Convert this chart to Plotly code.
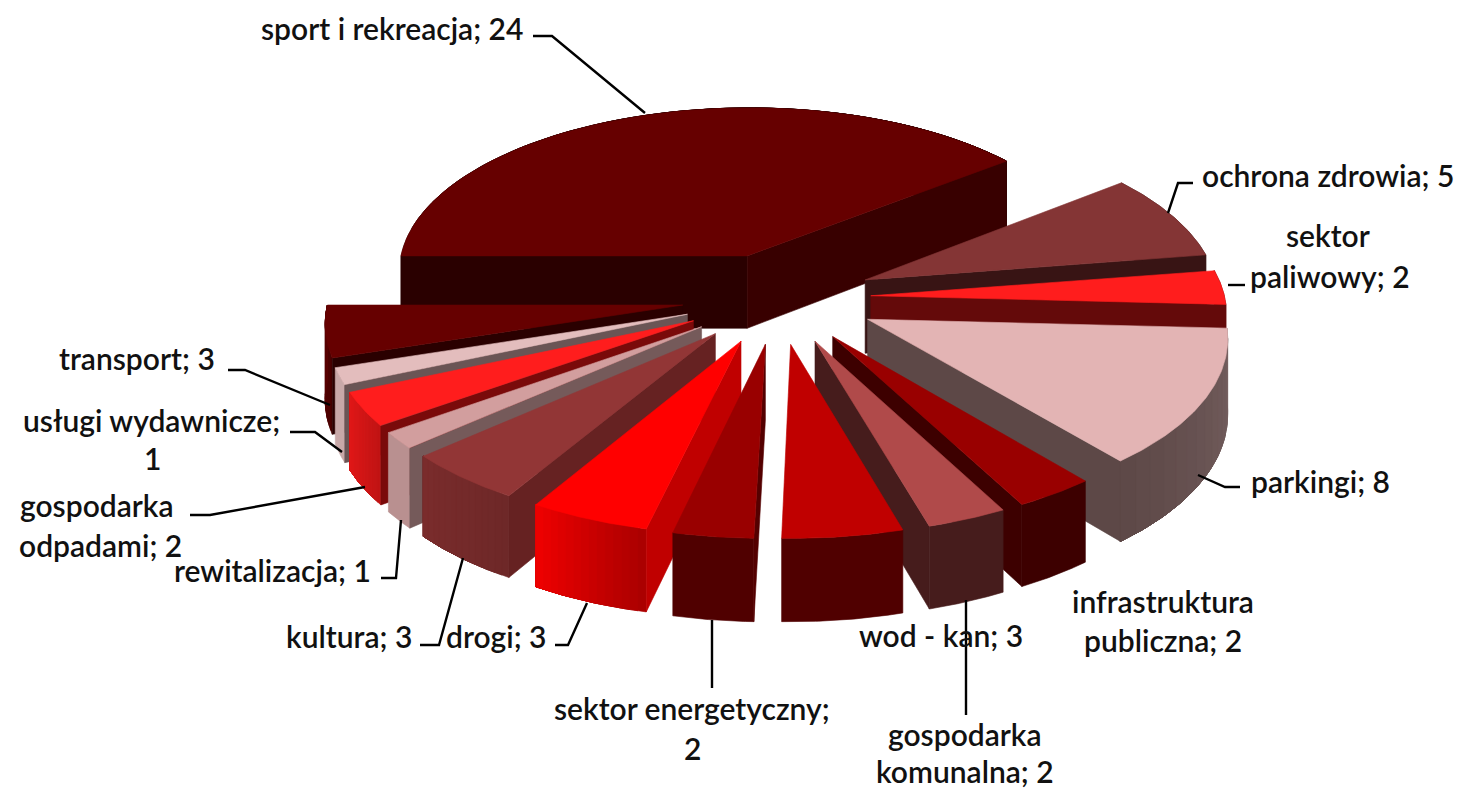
import math
import plotly.graph_objects as go

# ---- data (clockwise from the 9 o'clock position)
categories = ["sport i rekreacja", "ochrona zdrowia", "sektor paliwowy", "parkingi",
              "infrastruktura publiczna", "gospodarka komunalna", "wod - kan",
              "sektor energetyczny", "drogi", "kultura", "rewitalizacja",
              "gospodarka odpadami", "usługi wydawnicze", "transport"]
values = [24, 5, 2, 8, 2, 2, 3, 2, 3, 3, 1, 2, 1, 3]

# ---- styles
top_colors = ["#660000", "#843535", "#FF1D1D", "#E3B4B4", "#990000", "#B04A4A", "#C00000",
              "#990000", "#FF0000", "#923636", "#D29E9E", "#FF1D1D", "#E3BDBD", "#660000"]
start_wall = ["#2A0000", "#381414", "#640A0A", "#5D4847", "#3D0000", "#461C1C", "#500000",
              "#540000", "#C00000", "#662222", "#755A5A", "#7A0A0A", "#6A5555", "#2A0000"]
end_wall = ["#380000", "#381414", "#640A0A", "#5D4847", "#3D0000", "#461C1C", "#500000",
            "#540000", "#C00000", "#662222", "#755A5A", "#7A0A0A", "#6A5555", "#2A0000"]
arc_start = ["#2A0000", "#381414", "#640A0A", "#756060", "#3D0000", "#461C1C", "#500000",
             "#500000", "#A80000", "#6E2828", "#B99090", "#C01414", "#C8A8A8", "#4A0000"]
arc_end = ["#380000", "#381414", "#640A0A", "#5D4847", "#3D0000", "#461C1C", "#500000",
           "#500000", "#F00000", "#7A2C2C", "#B99090", "#E01818", "#C8A8A8", "#5A0000"]
explode = [96, 96, 93, 99, 96, 96, 96, 96, 96, 96, 96, 96, 96, 96]

# label text lines with anchor positions (layout only)
label_lines = [
    ("sport i rekreacja; 24", 392, 28), ("ochrona zdrowia; 5", 1328, 175),
    ("sektor", 1328, 235), ("paliwowy; 2", 1330, 276), ("parkingi; 8", 1320, 481),
    ("infrastruktura", 1163, 601), ("publiczna; 2", 1163, 640), ("wod - kan; 3", 941, 635),
    ("gospodarka", 965, 734), ("komunalna; 2", 965, 771),
    ("sektor energetyczny;", 692, 708), ("2", 692, 748),
    ("drogi; 3", 496, 636), ("kultura; 3", 349, 636), ("rewitalizacja; 1", 272, 570),
    ("gospodarka", 97, 505), ("odpadami; 2", 100, 545),
    ("usługi wydawnicze;", 151, 420), ("1", 152, 458), ("transport; 3", 137, 358),
]
leaders = [
    [(533, 36), (552, 36), (645, 113)], [(1193, 183), (1178, 183), (1168, 213)],
    [(1245, 285), (1228, 285)], [(1240, 487), (1225, 487), (1198, 475)],
    [(966, 600), (966, 715)], [(712, 620), (712, 688)],
    [(587, 603), (568, 645), (555, 645)], [(463, 558), (439, 645), (420, 645)],
    [(401, 520), (396, 578), (381, 578)], [(365, 487), (210, 515), (190, 515)],
    [(342, 452), (315, 432), (290, 432)], [(330, 405), (245, 370), (228, 370)],
]

# ---- projection parameters
CX, CY = 778, 298
R = 354
TILT, THICK, DIST = 0.475, 74, 4000
START = 270.0
N = 72


def project(X, Y, Z):
    s = 1 / (1 + Y / DIST)
    return CX + X * s, CY - (Y * TILT + Z) * s


def mix(c0, c1, t):
    a = [int(c0[i:i + 2], 16) for i in (1, 3, 5)]
    b = [int(c1[i:i + 2], 16) for i in (1, 3, 5)]
    return "#%02X%02X%02X" % tuple(round(p + (q - p) * t) for p, q in zip(a, b))


fig = go.Figure()


def poly(pts, color):
    fig.add_trace(go.Scatter(x=[p[0] for p in pts] + [pts[0][0]], y=[p[1] for p in pts] + [pts[0][1]],
                             mode="lines", fill="toself", fillcolor=color,
                             line=dict(color=color, width=0.6), hoverinfo="skip", showlegend=False))


total = sum(values)
slices = []
a = START
for i, v in enumerate(values):
    sweep = 360 * v / total
    slices.append((i, a, sweep))
    a += sweep

slices.sort(key=lambda t: -math.cos(math.radians(t[1] + t[2] / 2)))

for i, a0, sweep in slices:
    mid = math.radians(a0 + sweep / 2)
    ox, oy = explode[i] * math.sin(mid), explode[i] * math.cos(mid)

    def rim(deg, z):
        r = math.radians(deg)
        return project(ox + R * math.sin(r), oy + R * math.cos(r), z)

    apex_t, apex_b = project(ox, oy, 0), project(ox, oy, -THICK)
    angs = [a0 + sweep * k / N for k in range(N + 1)]
    top = [apex_t] + [rim(d, 0) for d in angs]
    # outer wall: each shaded strip runs on to the far end, so no seams show between strips
    strips = 14 if arc_start[i] != arc_end[i] else 1
    for k in range(strips):
        d0 = a0 + sweep * k / strips
        dd = [d0 + (a0 + sweep - d0) * j / 40 for j in range(41)]
        poly([rim(d, 0) for d in dd] + [rim(d, -THICK) for d in reversed(dd)],
             mix(arc_start[i], arc_end[i], (k + .5) / strips))

    # radial walls: only those facing the viewer
    mp = rim(a0 + sweep / 2, 0)
    for deg, col in ((a0, start_wall[i]), (a0 + sweep, end_wall[i])):
        e = rim(deg, 0)
        side = lambda p: (e[0] - apex_t[0]) * (p[1] - apex_t[1]) - (e[1] - apex_t[1]) * (p[0] - apex_t[0])
        if side(mp) * side(apex_b) < 0:
            poly([apex_t, e, rim(deg, -THICK), apex_b], col)
    poly(top, top_colors[i])

for path in leaders:
    fig.add_trace(go.Scatter(x=[p[0] for p in path], y=[p[1] for p in path], mode="lines",
                             line=dict(color="#000000", width=2.4), hoverinfo="skip", showlegend=False))

for text, x, y in label_lines:
    fig.add_annotation(x=x, y=y, text=text, showarrow=False, xanchor="center", yanchor="middle",
                       font=dict(family="Lato", size=30, color="#111111", weight=600))

fig.update_layout(width=1458, height=790, margin=dict(l=0, r=0, t=0, b=0),
                  paper_bgcolor="white", plot_bgcolor="white",
                  xaxis=dict(range=[0, 1458], visible=False, fixedrange=True),
                  yaxis=dict(range=[790, 0], visible=False, fixedrange=True))
fig.write_html("out.html", post_script="document.body.style.margin='0';",
               config={"displayModeBar": False})
